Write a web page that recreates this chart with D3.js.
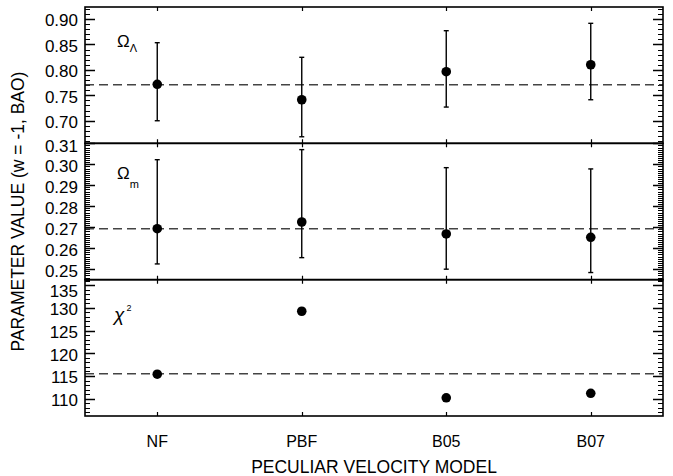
<!DOCTYPE html>
<html>
<head>
<meta charset="utf-8">
<script src="https://cdn.jsdelivr.net/npm/d3@7"></script>
<style>
    body { margin: 0; background: #fff; }
    text { font-family: "Liberation Sans", Arial, Helvetica, sans-serif; fill: #000; }
</style>
</head>
<body>
<div id="content"></div>
<script>
const categories = ["NF", "PBF", "B05", "B07"];

const omegaL = [0.7716, 0.7413, 0.7964, 0.8101];
const omegaLLo = [0.700, 0.6685, 0.7269, 0.7413];
const omegaLHi = [0.8534, 0.8247, 0.877, 0.8915];

const omegaM = [0.2693, 0.2725, 0.2668, 0.2652];
const omegaMLo = [0.2525, 0.2555, 0.2500, 0.2484];
const omegaMHi = [0.3022, 0.3070, 0.2984, 0.2978];

const chi2 = [115.4, 129.25, 110.2, 111.2];

const refLines = [0.7708, 0.2693, 115.5];

const omegaLTicks = [0.70, 0.75, 0.80, 0.85, 0.90];
const omegaMTicks = [0.25, 0.26, 0.27, 0.28, 0.29, 0.30, 0.31];
const chi2Ticks = [110, 115, 120, 125, 130, 135];

const width = 673, height = 476;
const plotLeft = 85, plotRight = 663, plotTop = 7, plotBottom = 416;
const panelH = (plotBottom - plotTop) / 3;

let svg = d3.select("#content").append("svg")
    .attr("width", width)
    .attr("height", height);

let x = d3.scalePoint().domain(categories).range([plotLeft, plotRight]).padding(0.5);

let panels = [
    { domain: [0.6556, 0.9236], ticks: omegaLTicks, minorStep: 0.01, fmt: ".2f", labelPad: 9,
      values: omegaL, lo: omegaLLo, hi: omegaLHi, ref: refLines[0] },
    { domain: [0.2450, 0.3100], ticks: omegaMTicks, minorStep: 0.001, fmt: ".2f", labelPad: 1,
      values: omegaM, lo: omegaMLo, hi: omegaMHi, ref: refLines[1] },
    { domain: [106.2, 136.2], ticks: chi2Ticks, minorStep: 1, fmt: "d", labelPad: 10,
      values: chi2, lo: null, hi: null, ref: refLines[2] }
];

function tickPath(vals, y, len) {
    // inward ticks on the left and right frame edges, as one path
    let pth = d3.path();
    vals.forEach(d => {
        let yy = Math.round(y(d)) + 0.5;
        pth.moveTo(plotLeft, yy); pth.lineTo(plotLeft + len, yy);
        pth.moveTo(plotRight, yy); pth.lineTo(plotRight - len, yy);
    });
    return pth.toString();
}

panels.forEach((p, i) => {
    let y0 = plotTop + i * panelH, y1 = y0 + panelH;
    let y = d3.scaleLinear().domain(p.domain).range([y1, y0]);
    let g = svg.append("g");

    let minor = d3.range(Math.ceil(p.domain[0] / p.minorStep), Math.floor(p.domain[1] / p.minorStep) + 1)
        .map(k => k * p.minorStep);

    g.append("path")
        .attr("d", tickPath(minor, y, 5))
        .attr("fill", "none")
        .attr("stroke", "#000")
        .attr("stroke-width", 1);
    g.append("path")
        .attr("d", tickPath(p.ticks, y, 10))
        .attr("fill", "none")
        .attr("stroke", "#000")
        .attr("stroke-width", 1.4);

    // tick labels
    let yl = g.append("g").attr("transform", `translate(${plotLeft},0)`)
        .call(d3.axisLeft(y).tickValues(p.ticks).tickSize(0).tickPadding(7).tickFormat(d3.format(p.fmt)));
    yl.select(".domain").remove();
    yl.selectAll(".tick line").remove();
    yl.selectAll(".tick text")
        .attr("y", d => Math.max(0, y0 + p.labelPad - y(d)) + 1.5)
        .style("font-size", "17px")
        .attr("font-family", null);

    // category ticks at top and bottom of each panel
    let cp = d3.path();
    categories.forEach(d => {
        let xx = Math.round(x(d)) + 0.5;
        cp.moveTo(xx, y0); cp.lineTo(xx, y0 + 4);
        cp.moveTo(xx, y1); cp.lineTo(xx, y1 - 4);
    });
    g.append("path")
        .attr("d", cp.toString())
        .attr("fill", "none")
        .attr("stroke", "#000")
        .attr("stroke-width", 1.2);

    // reference line
    g.append("line")
        .attr("x1", plotLeft).attr("x2", plotRight)
        .attr("y1", y(p.ref)).attr("y2", y(p.ref))
        .attr("stroke", "#444")
        .attr("stroke-width", 1.5)
        .attr("stroke-dasharray", "9,5");

    // error bars
    if (p.lo) {
        let eb = g.append("g").selectAll("g")
            .data(categories)
            .enter().append("g");
        eb.append("line")
            .attr("x1", d => x(d)).attr("x2", d => x(d))
            .attr("y1", (d, j) => y(p.lo[j])).attr("y2", (d, j) => y(p.hi[j]))
            .attr("stroke", "#000").attr("stroke-width", 1.4);
        eb.append("line")
            .attr("x1", d => x(d) - 2.5).attr("x2", d => x(d) + 2.5)
            .attr("y1", (d, j) => y(p.lo[j])).attr("y2", (d, j) => y(p.lo[j]))
            .attr("stroke", "#000").attr("stroke-width", 1.4);
        eb.append("line")
            .attr("x1", d => x(d) - 2.5).attr("x2", d => x(d) + 2.5)
            .attr("y1", (d, j) => y(p.hi[j])).attr("y2", (d, j) => y(p.hi[j]))
            .attr("stroke", "#000").attr("stroke-width", 1.4);
    }

    g.append("g").selectAll("circle")
        .data(categories)
        .enter().append("circle")
        .attr("cx", d => x(d))
        .attr("cy", (d, j) => y(p.values[j]))
        .attr("r", 4.8)
        .attr("fill", "#000");

    // frame
    g.append("rect")
        .attr("x", plotLeft).attr("y", y0)
        .attr("width", plotRight - plotLeft).attr("height", panelH)
        .attr("fill", "none")
        .attr("stroke", "#000")
        .attr("stroke-width", 1.6);
});

// panel labels
let l1 = svg.append("text").attr("x", 117).attr("y", 47).style("font-size", "17px");
l1.append("tspan").text("Ω");
l1.append("tspan").attr("dy", 5).style("font-size", "11px").text("Λ");

let l2 = svg.append("text").attr("x", 117).attr("y", 178.5).style("font-size", "17px");
l2.append("tspan").text("Ω");
l2.append("tspan").attr("dy", 9).style("font-size", "11px").text("m");

let l3 = svg.append("text").attr("x", 114).attr("y", 321).style("font-size", "19px");
l3.append("tspan").style("font-style", "italic").text("χ");
l3.append("tspan").attr("dx", 2).attr("dy", -10).style("font-size", "9px").text("2");

// category labels
svg.append("g").selectAll("text")
    .data(categories)
    .enter().append("text")
    .attr("x", d => x(d))
    .attr("y", 447)
    .attr("text-anchor", "middle")
    .style("font-size", "16px")
    .text(d => d);

svg.append("text")
    .attr("x", (plotLeft + plotRight) / 2)
    .attr("y", 473)
    .attr("text-anchor", "middle")
    .style("font-size", "17.5px")
    .text("PECULIAR VELOCITY MODEL");

svg.append("text")
    .attr("transform", `translate(24,${(plotTop + plotBottom) / 2}) rotate(-90)`)
    .attr("text-anchor", "middle")
    .style("font-size", "17.5px")
    .text("PARAMETER VALUE (w = -1, BAO)");
</script>
</body>
</html>
